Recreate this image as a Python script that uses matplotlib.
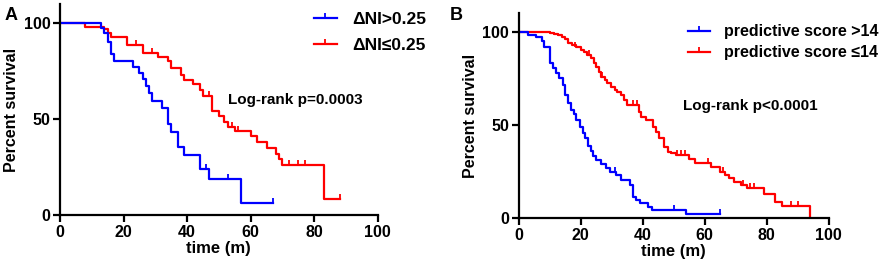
import matplotlib
matplotlib.use('Agg')
import matplotlib.pyplot as plt
from matplotlib.lines import Line2D

plt.rcParams['font.family'] = ['Liberation Sans', 'DejaVu Sans']
plt.rcParams['font.weight'] = 'bold'

# panel A: delta NI groups
a_hi_t = [0, 13, 14, 15, 16, 17, 23, 25, 26, 27, 28, 29, 32, 34, 35, 37, 39, 44, 47, 57, 67]
a_hi_s = [100, 97.5, 95, 90, 84, 80, 77, 74, 71, 67, 63.5, 59.5, 55.5, 47.5, 43.5, 35.5, 31.5, 24, 19, 6.5, 6.5]
a_hi_cens_t = [46, 53, 67]
a_hi_cens_s = [24, 19, 6.5]

a_lo_t = [0, 8, 14, 15, 16, 21, 26, 31, 34, 35, 38, 39, 42, 44, 45, 48, 50, 51.5, 53, 55, 60, 62, 65, 68, 69, 70, 83, 88]
a_lo_s = [100, 98, 97, 95, 93, 88.5, 84.5, 82.5, 80, 76.5, 73, 70.3, 68.5, 65, 62, 54, 51.5, 48.5, 46, 44, 41, 38, 35, 32, 29, 26, 8.5, 8.5]
a_lo_cens_t = [24, 29, 47, 54, 56, 72, 75, 77, 88]
a_lo_cens_s = [88.5, 84.5, 62, 46, 44, 26, 26, 26, 8.5]

# panel B: predictive score groups
b_hi_t = [0, 3, 5.5, 7.6, 8.2, 10, 11, 11.9, 13, 14.1, 14.8, 15.9, 16.8, 17.7, 18.6, 19.7, 20.7, 21.5,
          22.3, 23.4, 24, 24.8, 26.6, 28.2, 29.3, 31.5, 33.1, 35.8, 36.8, 37.9, 39, 41.7, 43, 54, 65]
b_hi_s = [100, 98.2, 97, 95.2, 92, 83, 80.4, 77.7, 75, 71.4, 66, 62, 58, 55.7, 52.7, 49, 45.5, 43,
          39, 36, 33.6, 31.4, 29.2, 26.8, 25, 23.2, 20.5, 17.9, 11.6, 9.8, 8, 6.3, 4.5, 2.3, 2.3]
b_hi_cens_t = [31, 50, 65]
b_hi_cens_s = [25, 4.5, 2.3]

b_lo_t = [0, 10, 11.3, 12.7, 13.8, 15, 16, 17, 18.6, 20.2, 21, 22, 23.2, 24.2, 25, 25.8, 26.6, 27.7,
          28.5, 29.6, 30.9, 31.7, 33.1, 34.1, 35, 38.8, 39.5, 41.2, 43.3, 44.4, 45.4, 47, 48.1, 49.2,
          50.8, 55, 57, 62, 64.8, 66.6, 68, 69.6, 71.8, 73.5, 79, 82.7, 84.9, 94.1]
b_lo_s = [100, 99.5, 98.8, 98.2, 97.3, 95.9, 93.8, 92.9, 91.6, 90.2, 88.9, 87.5, 85.7, 83.4, 81.2, 78.6,
          75.9, 74.1, 72.3, 70.5, 68.8, 67.9, 66.1, 63.4, 60.7, 57.1, 54.5, 52.7, 49.1, 46.4, 42.9,
          38.4, 35.7, 34.8, 33.9, 32, 29.5, 27.5, 25, 23, 21.4, 19.6, 17.9, 16, 13.2, 9, 6.5, 0]
b_lo_cens_t = [18, 22.5, 27, 37, 38, 51, 52.4, 53.5, 61, 66, 72.5, 74.5, 76, 88, 90]
b_lo_cens_s = [91.6, 87.5, 75.9, 60.7, 60.7, 33.9, 33.9, 33.9, 29.5, 25, 17.9, 16, 16, 6.5, 6.5]

tick_mark = [(0, 0), (0, 1)]


def draw_km(ax, t1, s1, c1t, c1s, t2, s2, c2t, c2s, labels, ptext, leg_xy, leg_sp, leg_size, hlen):
    ax.step(t2, s2, where='post', color='red', lw=1.6)
    ax.step(t1, s1, where='post', color='blue', lw=1.6)
    ax.plot(c2t, c2s, ls='none', marker=tick_mark, ms=7, mew=1.3, color='red')
    ax.plot(c1t, c1s, ls='none', marker=tick_mark, ms=7, mew=1.3, color='blue')
    ax.set_xlim(0, 100)
    ax.set_ylim(0, 110)
    ax.set_xticks([0, 20, 40, 60, 80, 100])
    ax.set_yticks([0, 50, 100])
    for sp in ['top', 'right']:
        ax.spines[sp].set_visible(False)
    for sp in ['left', 'bottom']:
        ax.spines[sp].set_linewidth(1.6)
    ax.tick_params(width=1.6, length=5, labelsize=11.5, pad=2)
    ax.set_xlabel('time (m)', fontsize=12, fontweight='bold', labelpad=1)
    ax.set_ylabel('Percent survival', fontsize=11.5, fontweight='bold', labelpad=3)
    ax.text(53, 60, ptext, fontsize=11, fontweight='bold', va='center')
    handles = [Line2D([], [], color='blue', lw=1.6, marker=tick_mark, ms=7, mew=1.3),
               Line2D([], [], color='red', lw=1.6, marker=tick_mark, ms=7, mew=1.3)]
    ax.legend(handles, labels, loc='upper left', bbox_to_anchor=leg_xy, frameon=False,
              borderpad=0, borderaxespad=0, numpoints=1, handlelength=hlen,
              handletextpad=0.9, labelspacing=leg_sp, prop={'size': leg_size, 'weight': 'bold'})


fig = plt.figure(figsize=(8.9, 2.71), dpi=100)
axA = fig.add_axes([0.0674, 0.2066, 0.357, 0.779])
axB = fig.add_axes([0.583, 0.1945, 0.348, 0.757])

draw_km(axA, a_hi_t, a_hi_s, a_hi_cens_t, a_hi_cens_s, a_lo_t, a_lo_s, a_lo_cens_t, a_lo_cens_s,
        ['ΔNI>0.25', 'ΔNI≤0.25'], 'Log-rank p=0.0003', (0.80, 0.96), 0.6, 12.5, 1.3)
draw_km(axB, b_hi_t, b_hi_s, b_hi_cens_t, b_hi_cens_s, b_lo_t, b_lo_s, b_lo_cens_t, b_lo_cens_s,
        ['predictive score >14', 'predictive score ≤14'], 'Log-rank p<0.0001', (0.545, 0.945), 0.38, 11.5, 1.4)

fig.text(0.005, 0.925, 'A', fontsize=13, fontweight='bold')
fig.text(0.505, 0.925, 'B', fontsize=13, fontweight='bold')

fig.savefig('out.png', dpi=100)
